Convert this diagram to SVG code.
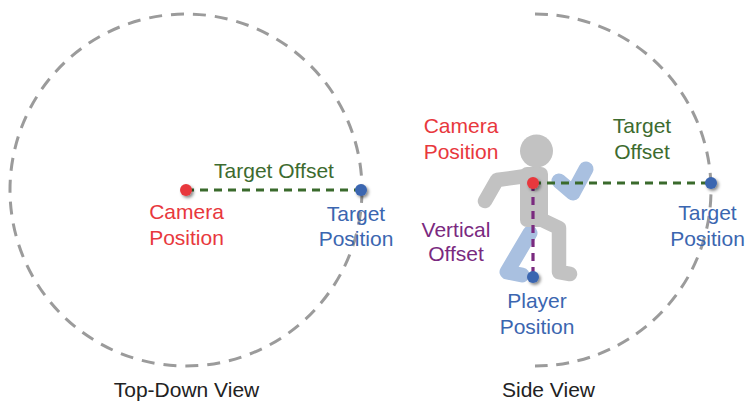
<svg xmlns="http://www.w3.org/2000/svg" width="746" height="402" viewBox="0 0 746 402">
  <style>
    .orbit { fill: none; stroke: #9b9b9b; stroke-width: 3; stroke-dasharray: 13 9; }
    .half { stroke-dasharray: 13 8.6; }
    .lbl { font-family: "Liberation Sans", Arial, sans-serif; font-size: 21px; text-anchor: middle; }
    .red { fill: #e8383d; }
    .blue { fill: #3b66b0; }
    .green { fill: #3d6b2f; }
    .purple { fill: #7a2a7f; }
    .caption { fill: #222222; }
    .offset-h { stroke: #3a6a2c; stroke-width: 3.2; stroke-dasharray: 8 6; fill: none; }
    .offset-v { stroke: #7a2a7f; stroke-width: 3.2; stroke-dasharray: 8 6; fill: none; }
    .limb-g { fill: none; stroke: #c2c2c2; stroke-width: 14.5; stroke-linecap: round; stroke-linejoin: round; }
    .limb-b { fill: none; stroke: #a9c0e0; stroke-width: 15; stroke-linecap: round; stroke-linejoin: round; }
  </style>
  <defs>
    <filter id="dotShadow" x="-60%" y="-60%" width="220%" height="220%">
      <feDropShadow dx="1.8" dy="2" stdDeviation="1.4" flood-color="#000" flood-opacity="0.45"/>
    </filter>
  </defs>

  <rect width="746" height="402" fill="#ffffff"/>

  <!-- Top-down view: orbit circle -->
  <g id="orbit-top">
    <circle class="orbit" cx="186" cy="190" r="176"/>
  </g>

  <!-- Side view: half orbit on the right -->
  <g id="orbit-side">
    <path class="orbit half" d="M535,14 A176,176 0 0 1 535,366"/>
  </g>

  <!-- Runner figure -->
  <g id="player-figure">
    <polyline class="limb-b" points="530,233 507,272 522,275"/>
    <polyline class="limb-b" points="559,181 573,193 586,169"/>
    <polyline class="limb-g" points="526,176 497,180 485,201"/>
    <rect x="520" y="167" width="28" height="60" rx="7" fill="#c2c2c2"/>
    <polyline class="limb-g" points="538,218 559,228 559,272 570,274"/>
    <circle cx="536.5" cy="151" r="16.5" fill="#c2c2c2"/>
  </g>

  <!-- Offset connectors -->
  <g id="connectors">
    <line class="offset-h" x1="186" y1="190" x2="361" y2="190"/>
    <line class="offset-h" x1="533" y1="183" x2="711" y2="183"/>
    <line class="offset-v" x1="533" y1="183" x2="533" y2="277"/>
  </g>

  <!-- Position points -->
  <g id="top-camera" filter="url(#dotShadow)"><circle cx="186" cy="190" r="6" fill="#e8383d"/></g>
  <g id="top-target" filter="url(#dotShadow)"><circle cx="361" cy="190" r="6" fill="#3b66b0"/></g>
  <g id="side-camera" filter="url(#dotShadow)"><circle cx="533" cy="183" r="6" fill="#e8383d"/></g>
  <g id="side-target" filter="url(#dotShadow)"><circle cx="711" cy="183" r="6" fill="#3b66b0"/></g>
  <g id="side-player" filter="url(#dotShadow)"><circle cx="533" cy="277" r="6" fill="#3b66b0"/></g>

  <!-- Labels: top-down view -->
  <g id="labels-top">
    <text class="lbl green" x="274" y="178">Target Offset</text>
    <text class="lbl red" x="186.5" y="219">Camera</text>
    <text class="lbl red" x="186.5" y="245">Position</text>
    <text class="lbl blue" x="356" y="221">Target</text>
    <text class="lbl blue" x="356" y="246">Position</text>
    <text class="lbl caption" x="186.5" y="397">Top-Down View</text>
  </g>

  <!-- Labels: side view -->
  <g id="labels-side">
    <text class="lbl red" x="461" y="133">Camera</text>
    <text class="lbl red" x="461" y="159">Position</text>
    <text class="lbl green" x="642" y="133">Target</text>
    <text class="lbl green" x="642" y="159">Offset</text>
    <text class="lbl purple" x="456" y="237">Vertical</text>
    <text class="lbl purple" x="456" y="261">Offset</text>
    <text class="lbl blue" x="707.5" y="220">Target</text>
    <text class="lbl blue" x="707.5" y="246">Position</text>
    <text class="lbl blue" x="537" y="308">Player</text>
    <text class="lbl blue" x="537" y="334">Position</text>
    <text class="lbl caption" x="548.5" y="397">Side View</text>
  </g>
</svg>
